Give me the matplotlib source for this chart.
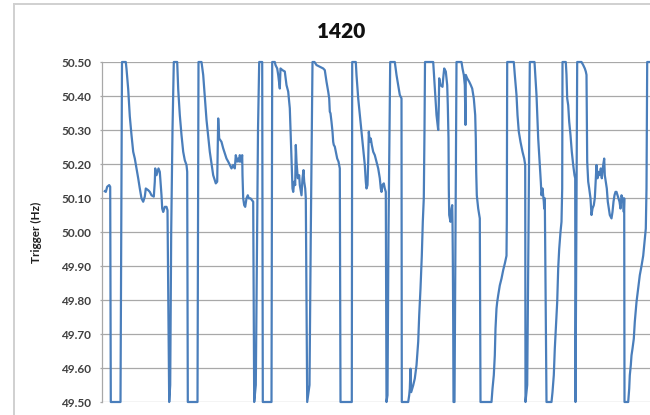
import matplotlib
matplotlib.use("Agg")
import matplotlib.pyplot as plt
from matplotlib.lines import Line2D

# Recorded trigger frequency (Hz) against elapsed time (s)
t = [
    3.3, 4.3, 5.7, 7.7, 8.7, 9.3, 19.0, 20.5, 24.3, 25.0, 26.7, 28.3, 30.0, 31.7, 33.3, 35.0,
    36.7, 38.3, 40.0, 41.7, 43.3, 44.3, 46.7, 48.3, 50.0, 52.3, 53.3, 53.7, 55.0, 56.0,
    57.0, 58.3, 59.0, 60.0, 60.7, 61.7, 63.3, 65.0, 66.0, 67.7, 68.7, 69.7, 71.0, 72.3,
    75.7, 76.7, 78.3, 80.0, 81.7, 83.3, 85.0, 85.7, 86.3, 96.0, 97.0, 100.0, 101.7, 105.0,
    108.3, 111.7, 114.3, 115.7, 116.7, 117.7, 120.0, 121.7, 123.3, 125.0, 126.7, 128.3,
    130.0, 131.7, 133.3, 134.3, 135.7, 136.7, 137.7, 138.3, 139.3, 140.7, 141.0, 141.7,
    142.7, 143.7, 145.0, 146.3, 147.3, 149.0, 150.3, 151.7, 152.7, 154.3, 155.3, 156.5,
    157.7, 160.7, 161.3, 170.0, 170.7, 173.3, 174.0, 175.7, 176.7, 178.3, 179.0, 181.0,
    183.3, 185.0, 186.7, 188.3, 189.0, 190.0, 191.0, 191.7, 192.7, 193.7, 194.3, 195.0,
    196.3, 197.7, 198.3, 200.0, 201.0, 202.0, 202.7, 203.7, 204.3, 205.7, 208.0, 209.3,
    211.0, 213.0, 215.0, 218.3, 221.7, 223.3, 225.0, 226.7, 227.7, 228.3, 229.0, 230.0,
    231.0, 231.7, 232.3, 233.3, 234.3, 235.7, 237.0, 238.3, 239.0, 250.3, 250.7, 254.3,
    255.0, 255.7, 256.7, 258.3, 260.0, 261.7, 263.3, 264.3, 265.0, 266.0, 266.7, 267.3,
    268.3, 269.3, 270.3, 271.7, 273.3, 275.0, 276.7, 278.3, 279.3, 280.0, 281.0, 282.3,
    283.3, 284.3, 285.0, 286.0, 287.0, 288.7, 293.3, 295.0, 296.7, 298.3, 300.0, 300.3,
    306.7, 307.7, 308.3, 309.0, 309.7, 310.7, 311.7, 313.3, 315.0, 316.7, 317.7, 319.0,
    320.3, 321.3, 322.3, 323.0, 323.5, 331.7, 333.3, 335.0, 336.7, 337.3, 337.7, 339.0,
    341.0, 341.7, 342.7, 344.3, 345.7, 346.3, 347.0, 347.3, 347.7, 349.0, 350.0, 350.7,
    351.0, 351.3, 351.7, 352.0, 353.0, 355.0, 360.0, 361.0, 362.3, 363.3, 364.0, 364.3,
    365.7, 367.7, 369.3, 370.7, 372.3, 373.7, 374.3, 374.7, 375.3, 376.7, 378.3, 379.0,
    390.0, 391.0, 392.3, 393.3, 394.0, 395.0, 395.7, 396.7, 398.3, 400.0, 401.7, 403.3,
    405.0, 405.3, 405.5, 405.7, 412.3, 413.3, 415.0, 416.0, 417.3, 419.0, 421.0, 422.7,
    423.7, 424.0, 425.7, 427.0, 428.3, 433.0, 435.0, 436.7, 438.3, 439.3, 440.0, 441.0,
    441.7, 442.3, 442.7, 443.3, 445.0, 450.0, 451.0, 452.3, 453.3, 454.3, 455.7, 456.7,
    457.7, 459.0, 460.0, 460.7, 461.0, 464.3, 465.0, 465.7, 466.7, 467.7, 469.0, 470.3,
    471.7, 473.0, 473.7, 474.0, 475.7, 480.0, 481.7, 483.3, 484.3, 485.0, 485.7, 486.7,
    487.7, 489.0, 490.0, 491.0, 492.3, 493.3, 494.3, 495.0, 496.0, 497.0, 498.3, 499.3,
    500.3, 501.7, 502.7, 503.3, 504.3, 505.3, 506.3, 507.3, 508.3, 510.0, 511.0, 512.0,
    513.0, 514.0, 515.0, 516.0, 517.0, 518.0, 519.0, 520.0, 521.0, 521.7, 522.3, 522.7,
    523.0, 526.7, 527.7, 528.3, 529.3, 530.0, 531.0, 532.3, 533.3, 535.0, 536.7, 538.3,
    540.0, 541.7, 543.3, 544.3, 545.0, 545.7, 570.0,
]

freq = [
    50.120, 50.118, 50.133, 50.138, 50.133, 49.500, 49.500, 50.500, 50.500, 50.480, 50.420,
    50.340, 50.285, 50.236, 50.216, 50.187, 50.158, 50.128, 50.099, 50.089, 50.104, 50.128,
    50.123, 50.118, 50.108, 50.104, 50.148, 50.187, 50.167, 50.177, 50.187, 50.177, 50.148,
    50.108, 50.069, 50.059, 50.074, 50.074, 50.064, 49.500, 49.550, 50.000, 50.300, 50.500,
    50.500, 50.420, 50.344, 50.285, 50.236, 50.211, 50.197, 50.177, 49.500, 49.500, 50.500,
    50.500, 50.462, 50.330, 50.236, 50.167, 50.143, 50.148, 50.334, 50.275, 50.265, 50.246,
    50.231, 50.216, 50.207, 50.197, 50.187, 50.197, 50.187, 50.226, 50.207, 50.216, 50.207,
    50.226, 50.207, 50.226, 50.167, 50.099, 50.079, 50.074, 50.099, 50.108, 50.099, 50.099,
    50.094, 50.089, 49.500, 49.550, 49.900, 50.300, 50.500, 50.500, 49.500, 49.500, 50.500,
    50.500, 50.491, 50.481, 50.462, 50.422, 50.481, 50.476, 50.472, 50.432, 50.413, 50.364,
    50.305, 50.226, 50.128, 50.118, 50.148, 50.138, 50.256, 50.207, 50.158, 50.167, 50.138,
    50.108, 50.158, 50.182, 50.148, 50.128, 50.099, 49.500, 49.550, 50.000, 50.500, 50.500,
    50.491, 50.486, 50.481, 50.476, 50.442, 50.413, 50.393, 50.354, 50.349, 50.324, 50.295,
    50.265, 50.256, 50.251, 50.236, 50.216, 50.207, 50.187, 49.500, 49.500, 50.500, 50.500,
    50.462, 50.432, 50.393, 50.344, 50.295, 50.246, 50.197, 50.148, 50.128, 50.138, 50.207,
    50.295, 50.265, 50.275, 50.256, 50.236, 50.226, 50.207, 50.187, 50.158, 50.128, 50.118,
    50.138, 50.143, 50.128, 50.118, 49.500, 49.520, 50.000, 50.500, 50.500, 50.462, 50.432,
    50.403, 50.393, 49.500, 49.500, 49.520, 49.539, 49.598, 49.529, 49.539, 49.549, 49.569,
    49.608, 49.677, 49.755, 49.834, 49.930, 50.030, 50.100, 50.300, 50.500, 50.500, 50.422,
    50.344, 50.300, 50.373, 50.452, 50.432, 50.427, 50.452, 50.481, 50.472, 50.432, 50.373,
    50.275, 50.128, 50.050, 50.030, 50.069, 50.079, 50.030, 49.930, 49.736, 49.500, 49.500,
    50.500, 50.500, 50.481, 50.462, 50.432, 50.315, 50.462, 50.452, 50.442, 50.432, 50.422,
    50.393, 50.344, 50.275, 50.177, 50.108, 50.069, 50.040, 49.500, 49.500, 49.539, 49.579,
    49.637, 49.716, 49.775, 49.794, 49.814, 49.843, 49.863, 49.888, 49.907, 49.930, 50.030,
    50.226, 50.500, 50.500, 50.462, 50.403, 50.344, 50.295, 50.265, 50.236, 50.216, 50.197,
    49.500, 49.550, 50.000, 50.500, 50.500, 50.403, 50.275, 50.197, 50.148, 50.108, 50.128,
    50.108, 50.089, 50.069, 50.099, 49.500, 49.500, 49.529, 49.579, 49.657, 49.716, 49.794,
    49.893, 49.950, 50.000, 50.030, 50.128, 50.500, 50.500, 50.462, 50.393, 50.373, 50.324,
    50.285, 50.236, 50.197, 50.167, 50.158, 49.500, 50.500, 50.500, 50.491, 50.481, 50.472,
    50.462, 50.207, 50.148, 50.128, 50.099, 50.050, 50.069, 50.079, 50.099, 50.158, 50.197,
    50.158, 50.177, 50.167, 50.187, 50.158, 50.197, 50.216, 50.167, 50.148, 50.128, 50.089,
    50.069, 50.050, 50.040, 50.059, 50.089, 50.108, 50.118, 50.118, 50.108, 50.099, 50.089,
    50.069, 50.108, 50.099, 50.089, 50.059, 50.099, 49.500, 49.500, 49.539, 49.579, 49.608,
    49.637, 49.657, 49.686, 49.736, 49.794, 49.834, 49.873, 49.900, 49.930, 49.980, 50.010,
    50.128, 50.500, 50.500,
]

y_ticks = [49.50, 49.60, 49.70, 49.80, 49.90, 50.00, 50.10, 50.20, 50.30, 50.40, 50.50]
title_text = "1420"
y_label = "Trigger (Hz)"

W, H = 650, 415
fig = plt.figure(figsize=(W / 100, H / 100), dpi=100)
fig.patch.set_facecolor("white")

# chart-area border: left and top edges
border_kw = dict(transform=fig.transFigure, color="#d0d0d0", linewidth=1.4)
fig.add_artist(Line2D([14.5 / W, 14.5 / W], [0, 1 - 4.5 / H], **border_kw))
fig.add_artist(Line2D([14.5 / W, 1.0], [1 - 4.5 / H, 1 - 4.5 / H], **border_kw))

ax_left, ax_bottom, ax_top, ax_right = 101.5, 402.0, 62.0, 700.0
ax = fig.add_axes([ax_left / W, (H - ax_bottom) / H,
                   (ax_right - ax_left) / W, (ax_bottom - ax_top) / H])

ax.plot(t, freq, color="#4a7ebb", linewidth=1.6, solid_joinstyle="round",
        clip_on=False, zorder=3)

ax.set_xlim(0, ax_right - ax_left)
ax.set_ylim(49.5, 50.5)
ax.set_yticks(y_ticks)
ax.set_yticklabels([f"{v:.2f}" for v in y_ticks])
ax.set_xticks([])

ax.grid(axis="y", color="#a8a8a8", linewidth=0.9)
ax.set_axisbelow(True)
for side in ("top", "right", "bottom"):
    ax.spines[side].set_visible(False)
ax.spines["left"].set_color("#a8a8a8")
ax.spines["left"].set_linewidth(0.9)

ax.tick_params(axis="y", length=1.6, width=0.9, color="#a8a8a8", pad=6,
               labelsize=8.5, labelcolor="#404040")
for lab in ax.get_yticklabels():
    lab.set_fontfamily("Lato")
    lab.set_fontweight("bold")

ax.set_ylabel(y_label, fontsize=8.5, fontweight="bold", family="Lato", color="#202020")
ax.yaxis.set_label_coords((41.5 - ax_left) / (ax_right - ax_left), 0.5)

fig.text(341 / W, 1 - 32 / H, title_text, ha="center", va="center",
         fontsize=15, fontweight="heavy", family="Lato", color="#111111")

fig.savefig("out.png", dpi=100, facecolor="white")
